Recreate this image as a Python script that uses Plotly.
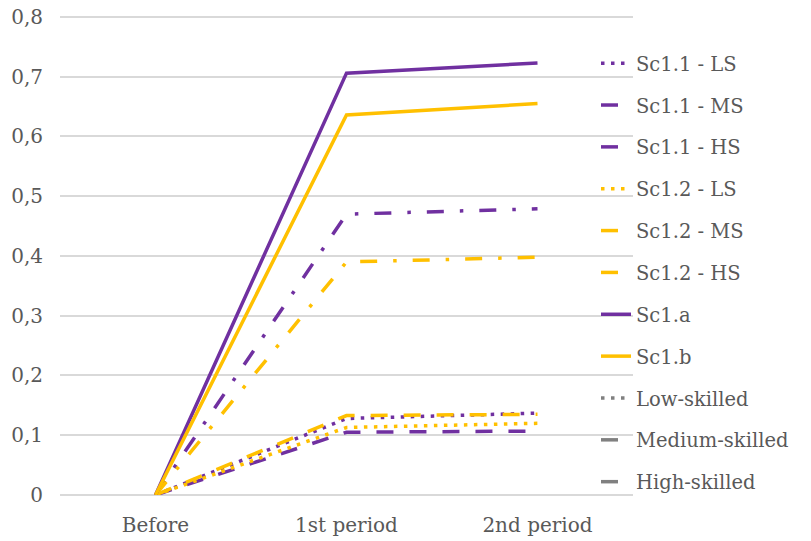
import plotly.graph_objects as go

categories = ["Before", "1st period", "2nd period"]

sc11_ls = [0, 0.128, 0.137]
sc11_ms = [0, 0.470, 0.479]
sc11_hs = [0, 0.105, 0.107]
sc12_ls = [0, 0.113, 0.120]
sc12_ms = [0, 0.390, 0.398]
sc12_hs = [0, 0.133, 0.135]
sc1a = [0, 0.706, 0.723]
sc1b = [0, 0.636, 0.655]
empty = [None, None, None]

PURPLE = "#7030A0"
YELLOW = "#FFC000"
GRAY = "#808080"
DOT = "3.5px,6.5px"
DASHDOT = "17px,16px,3.5px,16px"
DASH = "17px,16px"
W = 3.5

series = [
    ("Sc1.1 - LS", sc11_ls, PURPLE, DOT),
    ("Sc1.1 - MS", sc11_ms, PURPLE, DASHDOT),
    ("Sc1.1 - HS", sc11_hs, PURPLE, DASH),
    ("Sc1.2 - LS", sc12_ls, YELLOW, DOT),
    ("Sc1.2 - MS", sc12_ms, YELLOW, DASHDOT),
    ("Sc1.2 - HS", sc12_hs, YELLOW, DASH),
    ("Sc1.a", sc1a, PURPLE, "solid"),
    ("Sc1.b", sc1b, YELLOW, "solid"),
    ("Low-skilled", empty, GRAY, DOT),
    ("Medium-skilled", empty, GRAY, DASHDOT),
    ("High-skilled", empty, GRAY, DASH),
]

fig = go.Figure()
for i, (name, vals, color, dash) in enumerate(series):
    fig.add_trace(go.Scatter(
        x=categories, y=vals, name=name, mode="lines",
        line=dict(color=color, width=W, dash=dash),
        legendgroup=f"g{i}", hoverinfo="skip",
    ))

FONT = "DejaVu Serif"
TXT = "#595959"
fig.update_layout(
    width=811, height=541,
    margin=dict(l=60, r=178, t=15, b=46, autoexpand=False),
    paper_bgcolor="white", plot_bgcolor="white",
    separators=", ",
    font=dict(family=FONT, size=20, color=TXT),
    showlegend=True,
    legend=dict(
        xref="container", yref="container",
        x=596 / 811, y=1 - 44 / 541, xanchor="left", yanchor="top",
        font=dict(family=FONT, size=19.5, color=TXT),
        tracegroupgap=13.5, bgcolor="rgba(0,0,0,0)",
        traceorder="grouped", maxheight=1.0,
    ),
    xaxis=dict(
        type="category", range=[-0.5, 2.5],
        showgrid=False, showline=False, ticks="",
        tickfont=dict(family=FONT, size=20, color=TXT),
        ticklabelstandoff=16,
    ),
    yaxis=dict(
        range=[0, 0.8033], dtick=0.1, tick0=0,
        showgrid=True, gridcolor="#D9D9D9", gridwidth=1.5,
        zeroline=True, zerolinecolor="#D9D9D9", zerolinewidth=1.5,
        showline=False, ticks="",
        tickfont=dict(family=FONT, size=20, color=TXT),
        ticklabelstandoff=16, ticklabeloverflow="allow",
    ),
)

fig.write_html(
    "out.html",
    config={"displayModeBar": False},
    post_script="document.body.style.margin='0';",
)
